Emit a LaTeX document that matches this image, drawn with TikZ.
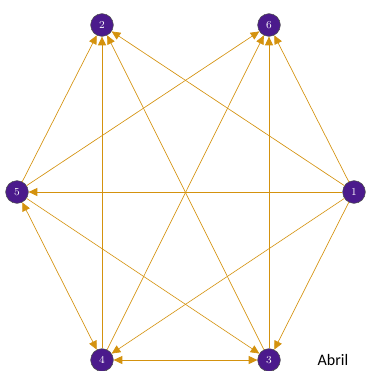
\documentclass[tikz,border=0pt]{standalone}
\usepackage{fontspec}
\newfontfamily\labelfont{Carlito}
\usetikzlibrary{arrows.meta}
\definecolor{vert}{HTML}{4B1A8C}
\definecolor{edge}{HTML}{D4920E}
\tikzset{
  v/.style={circle,draw=black!70,fill=vert,text=white,inner sep=0pt,
    minimum size=17pt,font=\footnotesize},
  e/.style={draw=edge,line width=0.5pt,-{Triangle[length=6.5pt,width=6pt]}},
  ee/.style={draw=edge,line width=0.5pt,{Triangle[length=6.5pt,width=6pt]}-{Triangle[length=6.5pt,width=6pt]}}
}
\begin{document}
\begin{tikzpicture}[x=0.75pt,y=-0.75pt]
        \useasboundingbox(0,0)rectangle(365,371);
        \node[v](1)at(354,192){1};
        \node[v](2)at(102,25){2};
        \node[v](3)at(269,360){3};
        \node[v](4)at(102,360){4};
        \node[v](5)at(17,192){5};
        \node[v](6)at(269,25){6};
        \node[font=\labelfont\large,anchor=west](lbl)at(313,360){Abril};
        % edges out of 1
        \foreach \t in {2,6,5,4,3}
          \path[e](1)--(\t);
        \path[e](5)--(6);
        \path[e](5)--(2);
        \path[e](5)--(3);
        \path[ee](5)--(4);
        \path[e](4)--(2);
        \path[e](4)--(6);
        \path[ee](4)--(3);
        \path[e](3)--(2);
        \path[e](3)--(6);
        \end{tikzpicture}
\end{document}
